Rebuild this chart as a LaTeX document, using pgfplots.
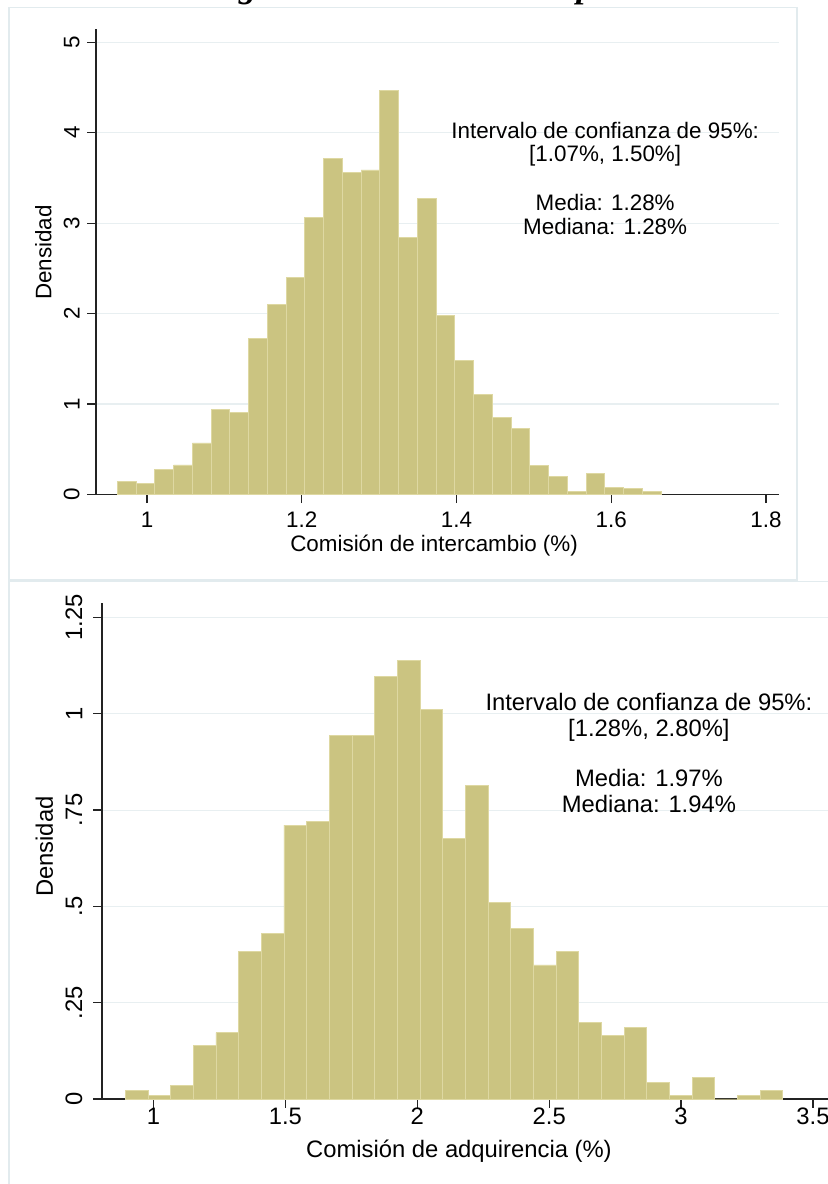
\documentclass[border=0pt]{standalone}
\usepackage{fontspec}
\setmainfont{Liberation Sans}
\newfontfamily\titlefont{Liberation Serif}
\usepackage{pgfplots}
\pgfplotsset{compat=1.18}

\definecolor{barfill}{RGB}{203,196,129}
\definecolor{barline}{RGB}{222,216,162}
\definecolor{gridc}{RGB}{232,239,241}
\definecolor{framec}{RGB}{226,235,238}
\definecolor{axisc}{RGB}{35,35,35}

\newcommand\topfont{\fontsize{11.2}{13.4}\selectfont}
\newcommand\botfont{\fontsize{11.9}{14.2}\selectfont}

\pgfplotsset{
  stata/.style={
    set layers,
    scale only axis,
    anchor=south west,
    clip=false,
    axis x line*=bottom, axis y line*=left,
    axis line style={axisc, line width=0.65pt, /pgfplots/on layer=axis foreground},
    every tick/.style={axisc, line width=0.65pt},
    tick align=outside,
    major tick length=4.3pt,
    ymajorgrids,
    grid style={gridc, line width=0.6pt},
    xticklabel style={anchor=base, inner sep=0pt},
    yticklabel style={rotate=90, anchor=south, inner sep=0pt},
  },
  hist/.style={ybar interval, fill=barfill, draw=barline, line width=0.4pt},
}

\begin{document}
\begin{tikzpicture}
% graph frames
\draw[framec, line width=0.6pt] (4.5pt,302pt) rectangle (398.5pt,588.35pt);
\draw[framec, line width=0.6pt] (4.5pt,-10pt) rectangle (430pt,301.15pt);

% cut-off title line
\node[anchor=base, inner sep=0pt, font=\titlefont\bfseries\itshape\fontsize{17.5}{20}\selectfont]
  at (201pt,593.1pt) {según método de bootstrap};

% ---- top: comision de intercambio
\begin{axis}[stata,
  at={(48pt,344.75pt)},
  width=341.5pt, height=232.75pt,
  xmin=0.934, xmax=1.8168, ymin=0, ymax=5.147,
  xtick={1,1.2,1.4,1.6,1.8}, xticklabels={1,1.2,1.4,1.6,1.8},
  ytick={0,1,2,3,4,5}, yticklabels={0,1,2,3,4,5},
  tick label style={font=\topfont},
  label style={font=\topfont},
  xticklabel style={yshift=-12.2pt},
  yticklabel style={yshift=3.7pt},
  xlabel={Comisión de intercambio (\%)},
  ylabel={Densidad},
  xlabel style={at={(axis description cs:0.495,-0.1224)}, anchor=base},
  ylabel style={at={(axis description cs:-0.0769,0.52)}, anchor=center},
]
\addplot[hist] coordinates {
  (0.9616,0.147) (0.9858,0.118) (1.0101,0.276) (1.0343,0.327) (1.0585,0.570)
  (1.0828,0.941) (1.1070,0.912) (1.1312,1.728) (1.1554,2.099) (1.1797,2.397)
  (1.2039,3.063) (1.2281,3.713) (1.2524,3.559) (1.2766,3.588) (1.3008,4.471)
  (1.3251,2.842) (1.3493,3.272) (1.3735,1.982) (1.3977,1.482) (1.4220,1.110)
  (1.4462,0.853) (1.4704,0.735) (1.4947,0.324) (1.5189,0.202) (1.5431,0.030)
  (1.5674,0.235) (1.5916,0.074) (1.6158,0.062) (1.6400,0.030) (1.6643,0)
};
\node[anchor=base, font=\topfont] at (axis cs:1.5921,3.939) {Intervalo de confianza de 95\%:};
\node[anchor=base, font=\topfont] at (axis cs:1.5921,3.680) {[1.07\%, 1.50\%]};
\node[anchor=base, font=\topfont] at (axis cs:1.5921,3.138) {Media: 1.28\%};
\node[anchor=base, font=\topfont] at (axis cs:1.5921,2.880) {Mediana: 1.28\%};
\end{axis}

% ---- bottom: comision de adquirencia
\begin{axis}[stata,
  at={(51pt,42.5pt)},
  width=362.75pt, height=247.85pt,
  xmin=0.8048, xmax=3.555, ymin=0, ymax=1.287,
  xtick={1,1.5,2,2.5,3,3.5}, xticklabels={1,1.5,2,2.5,3,3.5},
  ytick={0,0.25,0.5,0.75,1,1.25}, yticklabels={0,.25,.5,.75,1,1.25},
  tick label style={font=\botfont},
  label style={font=\botfont},
  xticklabel style={yshift=-8.7pt},
  yticklabel style={yshift=5.3pt},
  xlabel={Comisión de adquirencia (\%)},
  ylabel={Densidad},
  xlabel style={at={(axis description cs:0.492,-0.119)}, anchor=base},
  ylabel style={at={(axis description cs:-0.0793,0.509)}, anchor=center},
]
\addplot[hist] coordinates {
  (0.8931,0.0216) (0.9790,0.0087) (1.0650,0.0346) (1.1509,0.1385) (1.2369,0.1723)
  (1.3228,0.383) (1.4087,0.430) (1.4947,0.711) (1.5806,0.720) (1.6666,0.944)
  (1.7525,0.944) (1.8384,1.096) (1.9244,1.139) (2.0103,1.011) (2.0963,0.677)
  (2.1822,0.815) (2.2681,0.511) (2.3541,0.443) (2.4400,0.348) (2.5260,0.384)
  (2.6119,0.198) (2.6978,0.1645) (2.7838,0.185) (2.8697,0.0433) (2.9557,0.0087)
  (3.0416,0.0563) (3.1275,0) (3.2135,0.0087) (3.2994,0.0216) (3.3853,0)
};
\node[anchor=base, font=\botfont] at (axis cs:2.878,1.0086) {Intervalo de confianza de 95\%:};
\node[anchor=base, font=\botfont] at (axis cs:2.878,0.941) {[1.28\%, 2.80\%]};
\node[anchor=base, font=\botfont] at (axis cs:2.878,0.811) {Media: 1.97\%};
\node[anchor=base, font=\botfont] at (axis cs:2.878,0.7447) {Mediana: 1.94\%};
\end{axis}

\pgfresetboundingbox
\path[use as bounding box] (0,0) rectangle (414pt,592pt);
\end{tikzpicture}
\end{document}
